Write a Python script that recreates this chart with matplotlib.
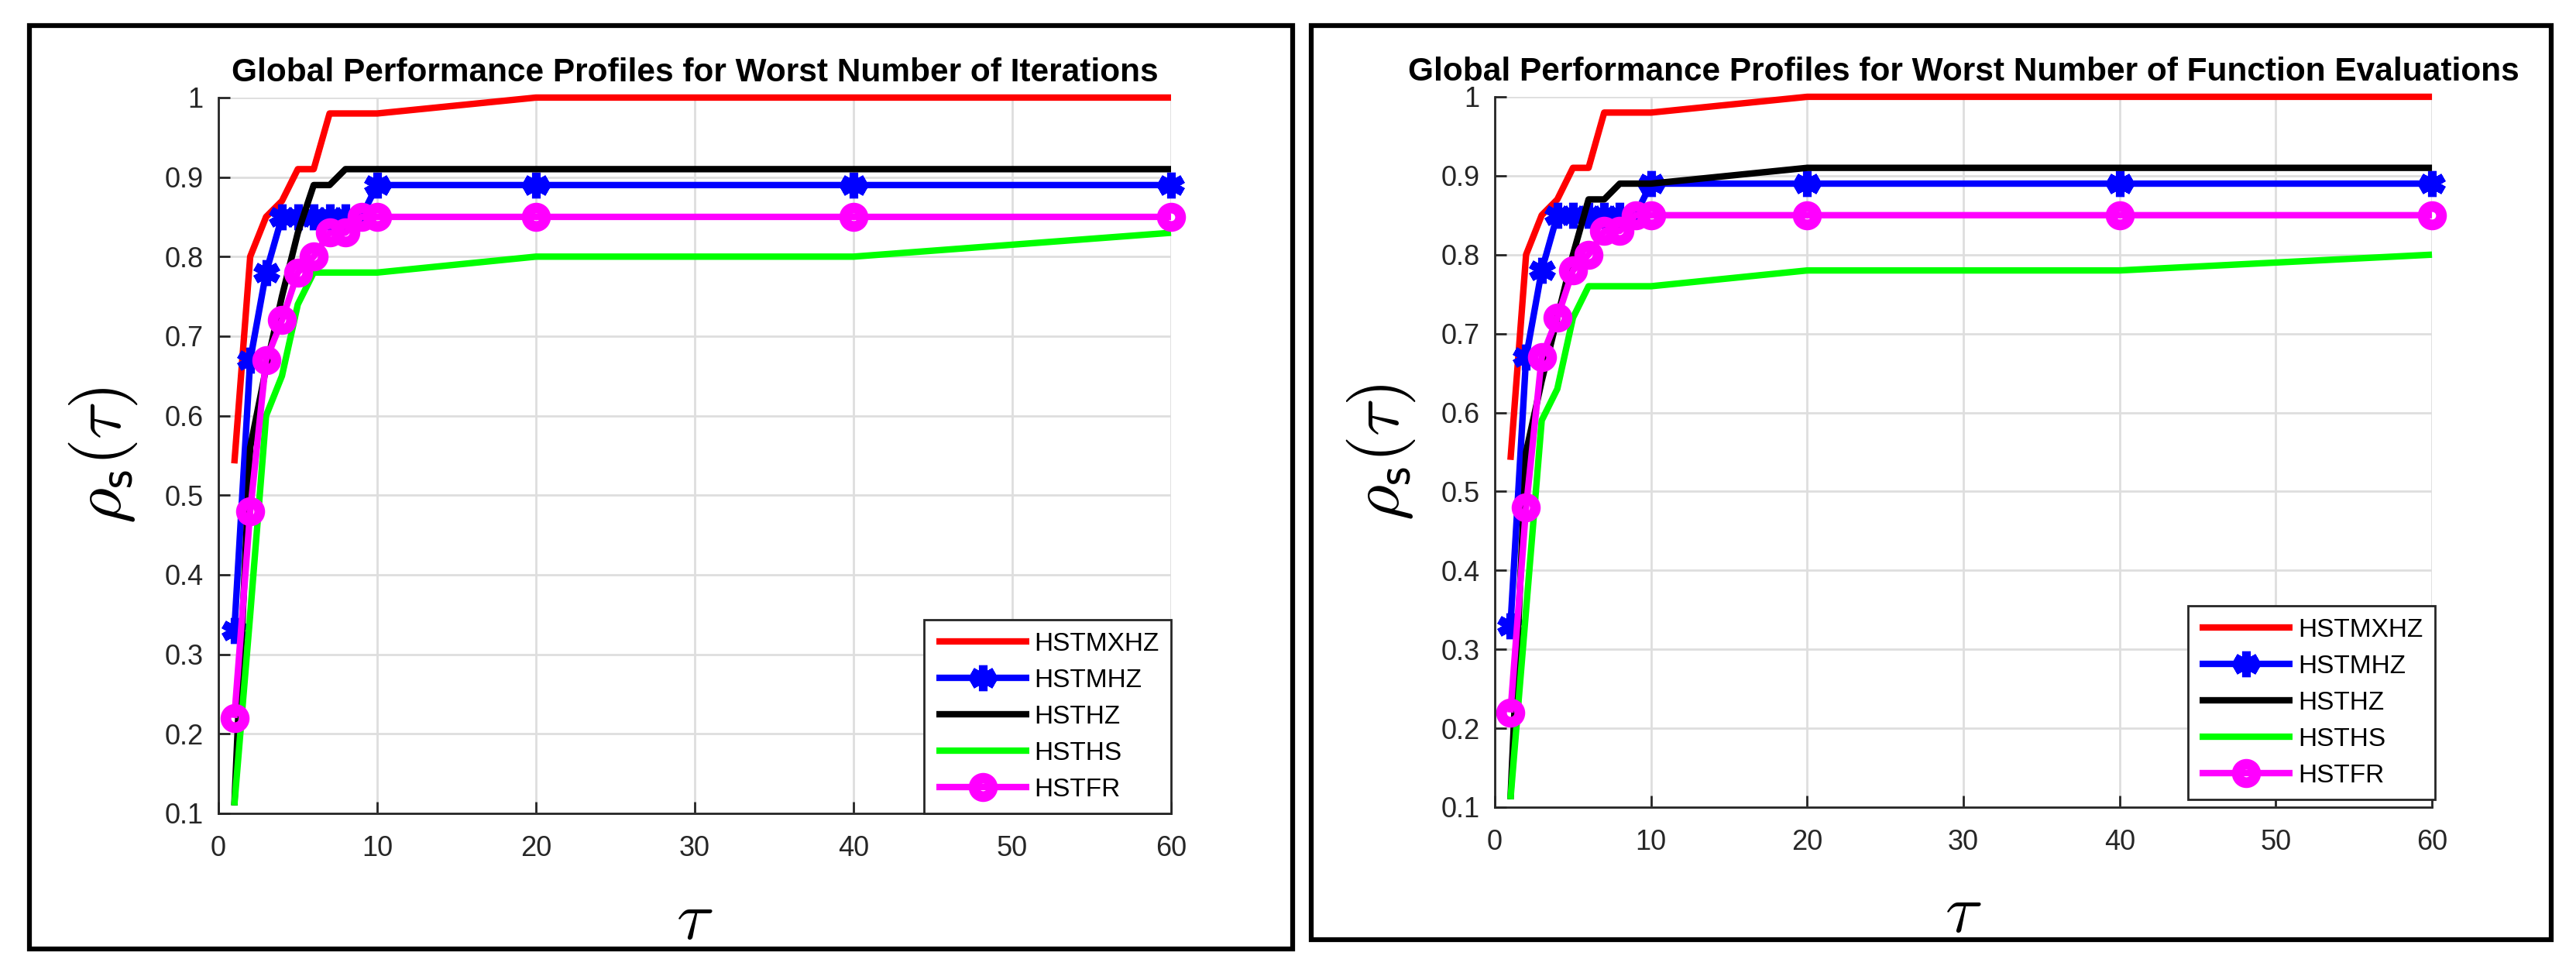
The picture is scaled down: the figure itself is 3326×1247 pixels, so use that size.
import matplotlib
matplotlib.use("Agg")
import matplotlib.pyplot as plt
from matplotlib.patches import Rectangle

plt.rcParams['font.family'] = ['Liberation Sans', 'DejaVu Sans']
plt.rcParams['mathtext.fontset'] = 'cm'

# tau grid shared by all profiles
tau = [1, 2, 3, 4, 5, 6, 7, 8, 9, 10, 20, 40, 60]
names = ["HSTMXHZ", "HSTMHZ", "HSTHZ", "HSTHS", "HSTFR"]

# worst number of iterations
it_mxhz = [0.54, 0.80, 0.85, 0.87, 0.91, 0.91, 0.98, 0.98, 0.98, 0.98, 1.00, 1.00, 1.00]
it_mhz = [0.33, 0.67, 0.78, 0.85, 0.85, 0.85, 0.85, 0.85, 0.85, 0.89, 0.89, 0.89, 0.89]
it_hz = [0.11, 0.56, 0.66, 0.75, 0.83, 0.89, 0.89, 0.91, 0.91, 0.91, 0.91, 0.91, 0.91]
it_hs = [0.11, 0.35, 0.60, 0.65, 0.74, 0.78, 0.78, 0.78, 0.78, 0.78, 0.80, 0.80, 0.83]
it_fr = [0.22, 0.48, 0.67, 0.72, 0.78, 0.80, 0.83, 0.83, 0.85, 0.85, 0.85, 0.85, 0.85]

# worst number of function evaluations
fe_mxhz = [0.54, 0.80, 0.85, 0.87, 0.91, 0.91, 0.98, 0.98, 0.98, 0.98, 1.00, 1.00, 1.00]
fe_mhz = [0.33, 0.67, 0.78, 0.85, 0.85, 0.85, 0.85, 0.85, 0.85, 0.89, 0.89, 0.89, 0.89]
fe_hz = [0.11, 0.55, 0.64, 0.72, 0.80, 0.87, 0.87, 0.89, 0.89, 0.89, 0.91, 0.91, 0.91]
fe_hs = [0.11, 0.35, 0.59, 0.63, 0.72, 0.76, 0.76, 0.76, 0.76, 0.76, 0.78, 0.78, 0.80]
fe_fr = [0.22, 0.48, 0.67, 0.72, 0.78, 0.80, 0.83, 0.83, 0.85, 0.85, 0.85, 0.85, 0.85]

xticks = [0, 10, 20, 30, 40, 50, 60]
yticks = [0.1, 0.2, 0.3, 0.4, 0.5, 0.6, 0.7, 0.8, 0.9, 1]
yticklabels = ["0.1", "0.2", "0.3", "0.4", "0.5", "0.6", "0.7", "0.8", "0.9", "1"]

fig = plt.figure(figsize=(33.26, 12.47), dpi=100)

# outer frames round each panel
fig.add_artist(Rectangle((0.0114, 0.0176), 0.4904, 0.9559, transform=fig.transFigure,
                         fill=False, lw=4.5, ec='k'))
fig.add_artist(Rectangle((0.509, 0.0273), 0.4814, 0.9463, transform=fig.transFigure,
                         fill=False, lw=4.5, ec='k'))


def panel(rect, title, series, leg_anchor):
    ax = fig.add_axes(rect)
    styles = [
        dict(color=(1, 0, 0)),
        dict(color=(0, 0, 1), marker=(6, 2, 0), markersize=24, markeredgewidth=8),
        dict(color=(0, 0, 0)),
        dict(color=(0, 1, 0)),
        dict(color=(1, 0, 1), marker='o', markersize=17, markeredgewidth=10,
             markerfacecolor='none'),
    ]
    for ys, name, st in zip(series, names, styles):
        ax.plot(tau, ys, lw=6, label=name, clip_on=False,
                solid_capstyle='butt', **st)
    ax.set_xlim(0, 60)
    ax.set_ylim(0.1, 1)
    ax.set_xticks(xticks)
    ax.set_yticks(yticks)
    ax.set_yticklabels(yticklabels)
    ax.grid(True, color='0.87', lw=2)
    ax.set_axisbelow(True)
    for s in ['top', 'right']:
        ax.spines[s].set_visible(False)
    for s in ['left', 'bottom']:
        ax.spines[s].set_color('0.15')
        ax.spines[s].set_linewidth(2)
    ax.tick_params(direction='in', length=11, width=2, color='0.15',
                   labelsize=26, labelcolor='0.15')
    ax.tick_params(axis='x', pad=20)
    ax.tick_params(axis='y', pad=14)
    ax.set_title(title, fontsize=30.5, fontweight='bold', pad=15)
    ax.set_ylabel(r'$\rho_{\mathsf{s}}(\tau)$', fontsize=64)
    ax.yaxis.set_label_coords(-0.083, 0.5)
    ax.set_xlabel(r'$\tau$', fontsize=64)
    ax.xaxis.set_label_coords(0.5, -0.105)
    leg = ax.legend(loc='lower right', bbox_to_anchor=leg_anchor, fontsize=24,
                    handlelength=3.6, handletextpad=0.2, labelspacing=0.48,
                    borderpad=0.46, borderaxespad=0, fancybox=False,
                    framealpha=1, edgecolor='0.15', numpoints=1)
    leg.get_frame().set_linewidth(2)
    return ax


panel([0.0848, 0.158, 0.3698, 0.741],
      "Global Performance Profiles for Worst Number of Iterations",
      [it_mxhz, it_mhz, it_hz, it_hs, it_fr], (1.0, 0.0))
panel([0.5803, 0.1644, 0.3638, 0.7354],
      "Global Performance Profiles for Worst Number of Function Evaluations",
      [fe_mxhz, fe_mhz, fe_hz, fe_hs, fe_fr], (1.003, 0.011))

plt.savefig("out.png", dpi=100)
